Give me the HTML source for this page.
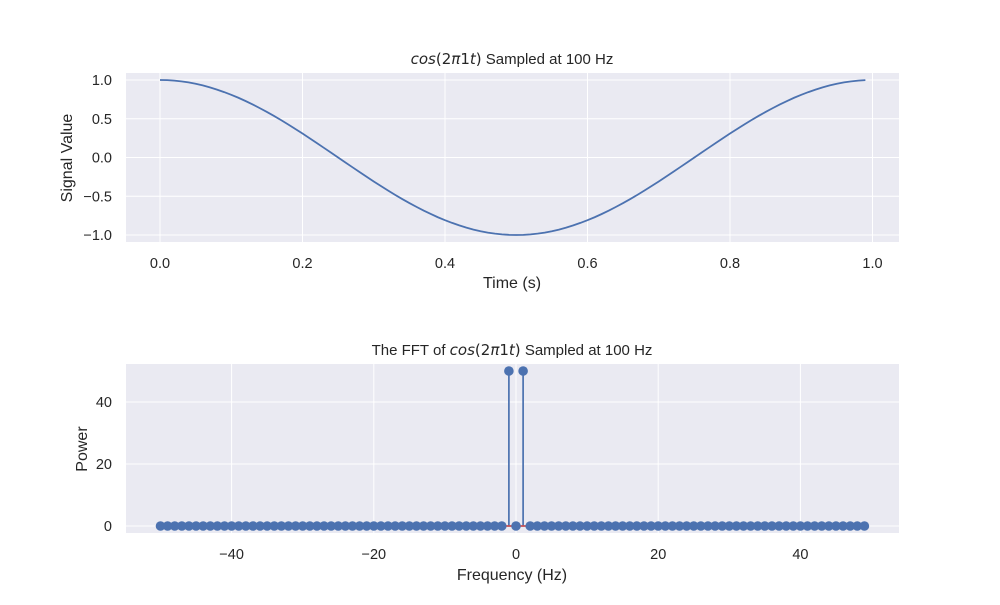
<!DOCTYPE html>
<html><head><meta charset="utf-8"><style>
body{margin:0;background:#fff;}
svg text{font-family:"Liberation Sans","DejaVu Sans",sans-serif;fill:#262626;}
</style></head><body>
<svg id="fig" width="1000" height="600" xmlns="http://www.w3.org/2000/svg"></svg>
<script>
const times = Array.from({length:100},(_,i)=>i/100);
const signalValues = [1,.998,.992,.982,.969,.951,.930,.905,.876,.844,.809,.771,.729,.685,.637,.588,.536,.482,.426,.368,.309,.249,.187,.125,.063,0,-.063,-.125,-.187,-.249,-.309,-.368,-.426,-.482,-.536,-.588,-.637,-.685,-.729,-.771,-.809,-.844,-.876,-.905,-.930,-.951,-.969,-.982,-.992,-.998,-1,-.998,-.992,-.982,-.969,-.951,-.930,-.905,-.876,-.844,-.809,-.771,-.729,-.685,-.637,-.588,-.536,-.482,-.426,-.368,-.309,-.249,-.187,-.125,-.063,0,.063,.125,.187,.249,.309,.368,.426,.482,.536,.588,.637,.685,.729,.771,.809,.844,.876,.905,.930,.951,.969,.982,.992,.998];
const frequencies = Array.from({length:100},(_,i)=>i-50);
const powerValues = [0,0,0,0,0,0,0,0,0,0,0,0,0,0,0,0,0,0,0,0,0,0,0,0,0,0,0,0,0,0,0,0,0,0,0,0,0,0,0,0,0,0,0,0,0,0,0,0,0,50,0,50,0,0,0,0,0,0,0,0,0,0,0,0,0,0,0,0,0,0,0,0,0,0,0,0,0,0,0,0,0,0,0,0,0,0,0,0,0,0,0,0,0,0,0,0,0,0,0,0];
const topXTicks = [0,0.2,0.4,0.6,0.8,1.0];
const topXLabels = ["0.0","0.2","0.4","0.6","0.8","1.0"];
const topYTicks = [1,0.5,0,-0.5,-1];
const topYLabels = ["1.0","0.5","0.0","\u22120.5","\u22121.0"];
const botXTicks = [-40,-20,0,20,40];
const botXLabels = ["\u221240","\u221220","0","20","40"];
const botYTicks = [0,20,40];
const botYLabels = ["0","20","40"];

const NS="http://www.w3.org/2000/svg";
const svg=document.getElementById('fig');
function mk(tag,attrs,parent){const e=document.createElementNS(NS,tag);for(const k in attrs)e.setAttribute(k,attrs[k]);(parent||svg).appendChild(e);return e;}

const tx=v=>160+v*712.5, ty=v=>157.5-v*77.5;
const bx=v=>516+v*7.11, by=v=>526-v*3.1;

function panel(name,x0,y0,w,h){
  const r=mk('rect',{x:x0,y:y0,width:w,height:h,fill:'#eaeaf2'});
  
  
}
panel('signal',126,73,773,169);
panel('fft',126,364,773,169);

function grid(name,xt,xl,yt,yl,fx,fy,x0,x1,y0,y1){
  xt.forEach((v,i)=>{
    const l=mk('line',{x1:fx(v),x2:fx(v),y1:y0,y2:y1,stroke:'#fff','stroke-width':1});
    
    
    const t=mk('text',{x:fx(v),y:y1+26,'text-anchor':'middle','font-size':14.5});
    t.textContent=xl[i];
    
    
  });
  yt.forEach((v,i)=>{
    const l=mk('line',{x1:x0,x2:x1,y1:fy(v),y2:fy(v),stroke:'#fff','stroke-width':1});
    
    
    const t=mk('text',{x:x0-14,y:fy(v)+5,'text-anchor':'end','font-size':14.5});
    t.textContent=yl[i];
    
    
  });
}
grid('signal',topXTicks,topXLabels,topYTicks,topYLabels,tx,ty,126,899,73,242);
grid('fft',botXTicks,botXLabels,botYTicks,botYLabels,bx,by,126,899,364,533);

const pl=mk('polyline',{points:times.map((t,i)=>tx(t)+','+ty(signalValues[i])).join(' '),fill:'none',stroke:'#4c72b0','stroke-width':1.8});



frequencies.forEach((f,i)=>{
  const s=mk('line',{x1:bx(f),x2:bx(f),y1:by(0),y2:by(powerValues[i]),stroke:'#4c72b0','stroke-width':1.7});
  
  
});
const base=mk('line',{x1:bx(frequencies[0]),x2:bx(frequencies[frequencies.length-1]),y1:by(0),y2:by(0),stroke:'#c44e52','stroke-width':1.7});


frequencies.forEach((f,i)=>{
  const c=mk('circle',{cx:bx(f),cy:by(powerValues[i]),r:4.8,fill:'#4c72b0'});
  
  
});

function txt(name,x,y,html,size,rot){
  const t=mk('text',{x:x,y:y,'text-anchor':'middle','font-size':size});
  if(rot)t.setAttribute('transform','rotate(-90 '+x+' '+y+')');
  t.innerHTML=html;
  
  
}
const math='<tspan font-family="DejaVu Sans" font-style="italic">cos</tspan><tspan font-family="DejaVu Sans">(2</tspan><tspan font-family="DejaVu Sans" font-style="italic">π</tspan><tspan font-family="DejaVu Sans">1</tspan><tspan font-family="DejaVu Sans" font-style="italic">t</tspan><tspan font-family="DejaVu Sans">)</tspan>';
txt('signal-title',512,64,math+' Sampled at 100 Hz',15);
txt('fft-title',512,355,'The FFT of '+math+' Sampled at 100 Hz',15);
txt('signal-x-axis-title',512,288,'Time (s)',16);
txt('signal-y-axis-title',72,158,'Signal Value',16,true);
txt('fft-x-axis-title',512,580,'Frequency (Hz)',16);
txt('fft-y-axis-title',87,449,'Power',16,true);
</script>
</body></html>
